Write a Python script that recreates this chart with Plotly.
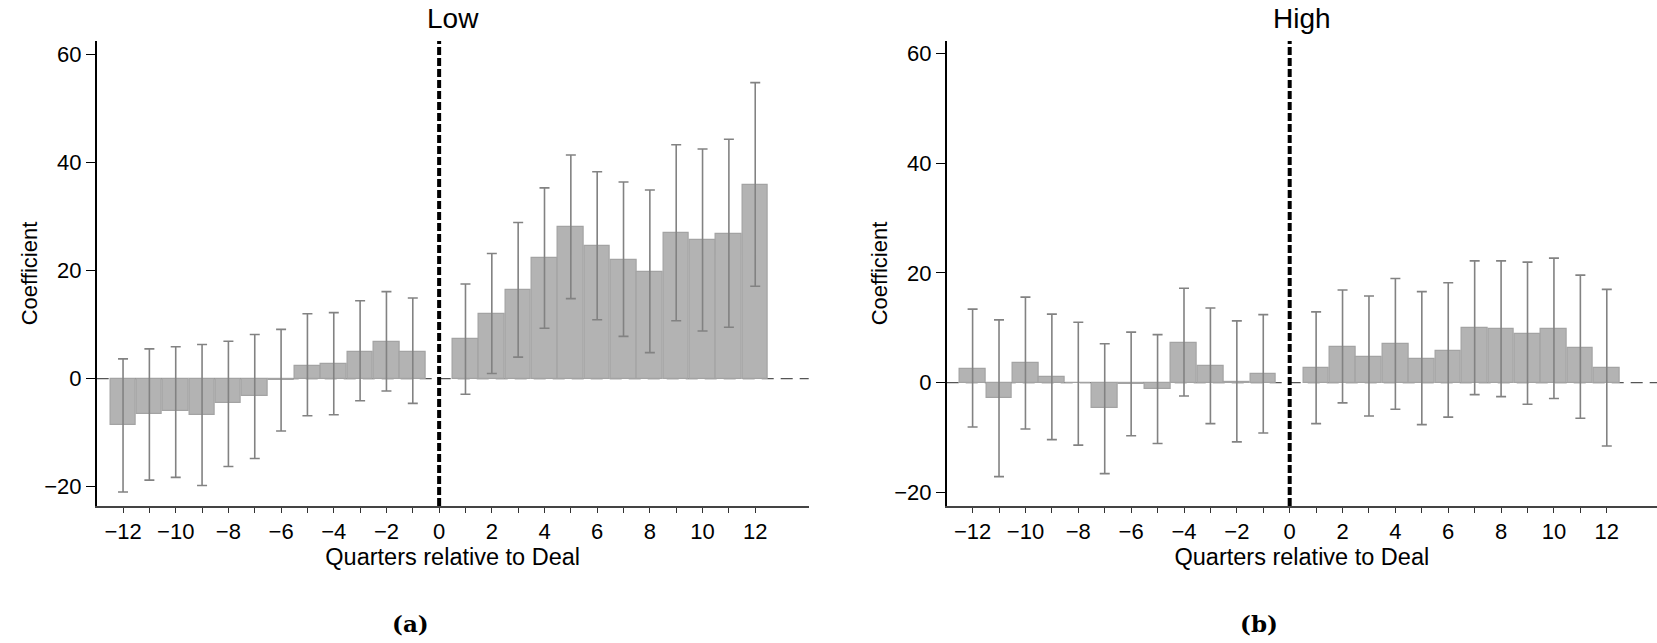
import plotly.graph_objects as go

quarters = [-12, -11, -10, -9, -8, -7, -6, -5, -4, -3, -2, -1,
            1, 2, 3, 4, 5, 6, 7, 8, 9, 10, 11, 12]

low_coef = [-8.6, -6.6, -6.1, -6.8, -4.6, -3.3, -0.25, 2.4, 2.7, 5.0, 6.7, 5.0,
            7.3, 11.9, 16.4, 22.3, 28.0, 24.5, 22.0, 19.8, 26.9, 25.6, 26.8, 35.8]
low_upper = [3.65, 5.5, 5.9, 6.3, 6.9, 8.15, 9.1, 12.0, 12.2, 14.4, 16.1, 14.9,
             17.5, 23.15, 28.9, 35.3, 41.4, 38.3, 36.4, 34.9, 43.3, 42.5, 44.3, 54.8]
low_lower = [-21.0, -18.8, -18.3, -19.8, -16.3, -14.8, -9.7, -6.9, -6.7, -4.1, -2.3, -4.6,
             -2.9, 0.93, 3.96, 9.3, 14.8, 10.9, 7.8, 4.8, 10.7, 8.8, 9.5, 17.1]

high_coef = [2.56, -2.85, 3.53, 1.1, -0.1, -4.68, -0.24, -1.15, 7.3, 3.0, 0.2, 1.52,
             2.68, 6.57, 4.75, 7.0, 4.38, 5.84, 10.04, 9.8, 8.94, 9.8, 6.39, 2.68]
high_upper = [13.4, 11.44, 15.6, 12.5, 11.0, 7.1, 9.2, 8.76, 17.2, 13.6, 11.26, 12.4,
              12.9, 16.9, 15.8, 19.0, 16.6, 18.2, 22.2, 22.2, 21.97, 22.7, 19.6, 17.0]
high_lower = [-8.1, -17.15, -8.45, -10.4, -11.4, -16.6, -9.7, -11.1, -2.43, -7.48, -10.8, -9.2,
              -7.48, -3.7, -6.08, -4.86, -7.66, -6.3, -2.19, -2.55, -3.95, -2.9, -6.5, -11.55]

major_ticks = [-12, -10, -8, -6, -4, -2, 0, 2, 4, 6, 8, 10, 12]
minor_ticks = [-11, -9, -7, -5, -3, -1, 1, 3, 5, 7, 9, 11]
y_ticks = [-20, 0, 20, 40, 60]

W, H = 1657, 643
FONT = "Liberation Sans"
BAR_FILL = "#b3b3b3"
BAR_LINE = "#a3a3a3"
ERR_COL = "#828282"

fig = go.Figure()


def add_panel(coef, upper, lower, xa, ya):
    fig.add_trace(go.Bar(
        x=quarters, y=coef, width=0.97,
        marker=dict(color=BAR_FILL, line=dict(color=BAR_LINE, width=1.2)),
        error_y=dict(type="data", symmetric=False,
                     array=[u - c for u, c in zip(upper, coef)],
                     arrayminus=[c - l for c, l in zip(coef, lower)],
                     color=ERR_COL, thickness=1.6, width=5),
        xaxis=xa, yaxis=ya, showlegend=False))


add_panel(low_coef, low_upper, low_lower, "x", "y")
add_panel(high_coef, high_upper, high_lower, "x2", "y2")

ydom = [1 - 506 / H, 1 - 41 / H]
xdom1 = [96.7 / W, 808.7 / W]
xdom2 = [946.7 / W, 1.0]

xaxis_common = dict(
    tickvals=major_ticks, ticks="outside", ticklen=5, tickwidth=1.3, tickcolor="#333",
    showline=True, linecolor="#444", linewidth=1.6, showgrid=False, zeroline=False,
    tickfont=dict(family=FONT, size=22, color="black"),
    minor=dict(tickvals=minor_ticks, ticks="outside", ticklen=5, tickwidth=1.3, tickcolor="#333"),
    title=dict(text="Quarters relative to Deal", font=dict(family=FONT, size=23.5, color="black"), standoff=2),
)
yaxis_common = dict(
    tickvals=y_ticks, ticks="outside", ticklen=9, tickwidth=1.3, tickcolor="black",
    showline=True, linecolor="black", linewidth=1.6, showgrid=False, zeroline=False,
    tickfont=dict(family=FONT, size=22, color="black"),
    title=dict(text="Coefficient", font=dict(family=FONT, size=22, color="black"), standoff=0),
)

fig.update_layout(
    width=W, height=H, autosize=False,
    margin=dict(l=0, r=0, t=0, b=0),
    paper_bgcolor="white", plot_bgcolor="white",
    bargap=0,
    xaxis=dict(domain=xdom1, range=[-13.0, 14.03], anchor="y", **xaxis_common),
    yaxis=dict(domain=ydom, range=[-23.6, 62.5], anchor="x", **yaxis_common),
    xaxis2=dict(domain=xdom2, range=[-12.98, 13.9], anchor="y2", **xaxis_common),
    yaxis2=dict(domain=ydom, range=[-22.5, 62.3], anchor="x2", **yaxis_common),
)

for xa, ya in (("x", "y"), ("x2", "y2")):
    fig.add_shape(type="line", xref=f"{xa} domain", yref=ya, x0=0, x1=1, y0=0, y1=0,
                  line=dict(color="#555", width=1.2, dash="12px,7px"), layer="below")
    fig.add_shape(type="line", xref=xa, yref=f"{ya} domain", x0=0, x1=0, y0=0, y1=1,
                  line=dict(color="black", width=4, dash="8px,3px"), layer="above")

for title, cx in (("Low", 452.7), ("High", 1301.7)):
    fig.add_annotation(text=title, x=cx / W,
                       y=1 - 18 / H, xref="paper", yref="paper", showarrow=False,
                       xanchor="center", yanchor="middle",
                       font=dict(family=FONT, size=28, color="black"))

for cap, cx in (("(a)", 410), ("(b)", 1259)):
    fig.add_annotation(text=f"<b>{cap}</b>", x=cx / W, y=1 - 623 / H, xref="paper", yref="paper",
                       showarrow=False, xanchor="center", yanchor="middle",
                       font=dict(family="DejaVu Serif", size=23, color="black"))

fig.write_html("out.html")
